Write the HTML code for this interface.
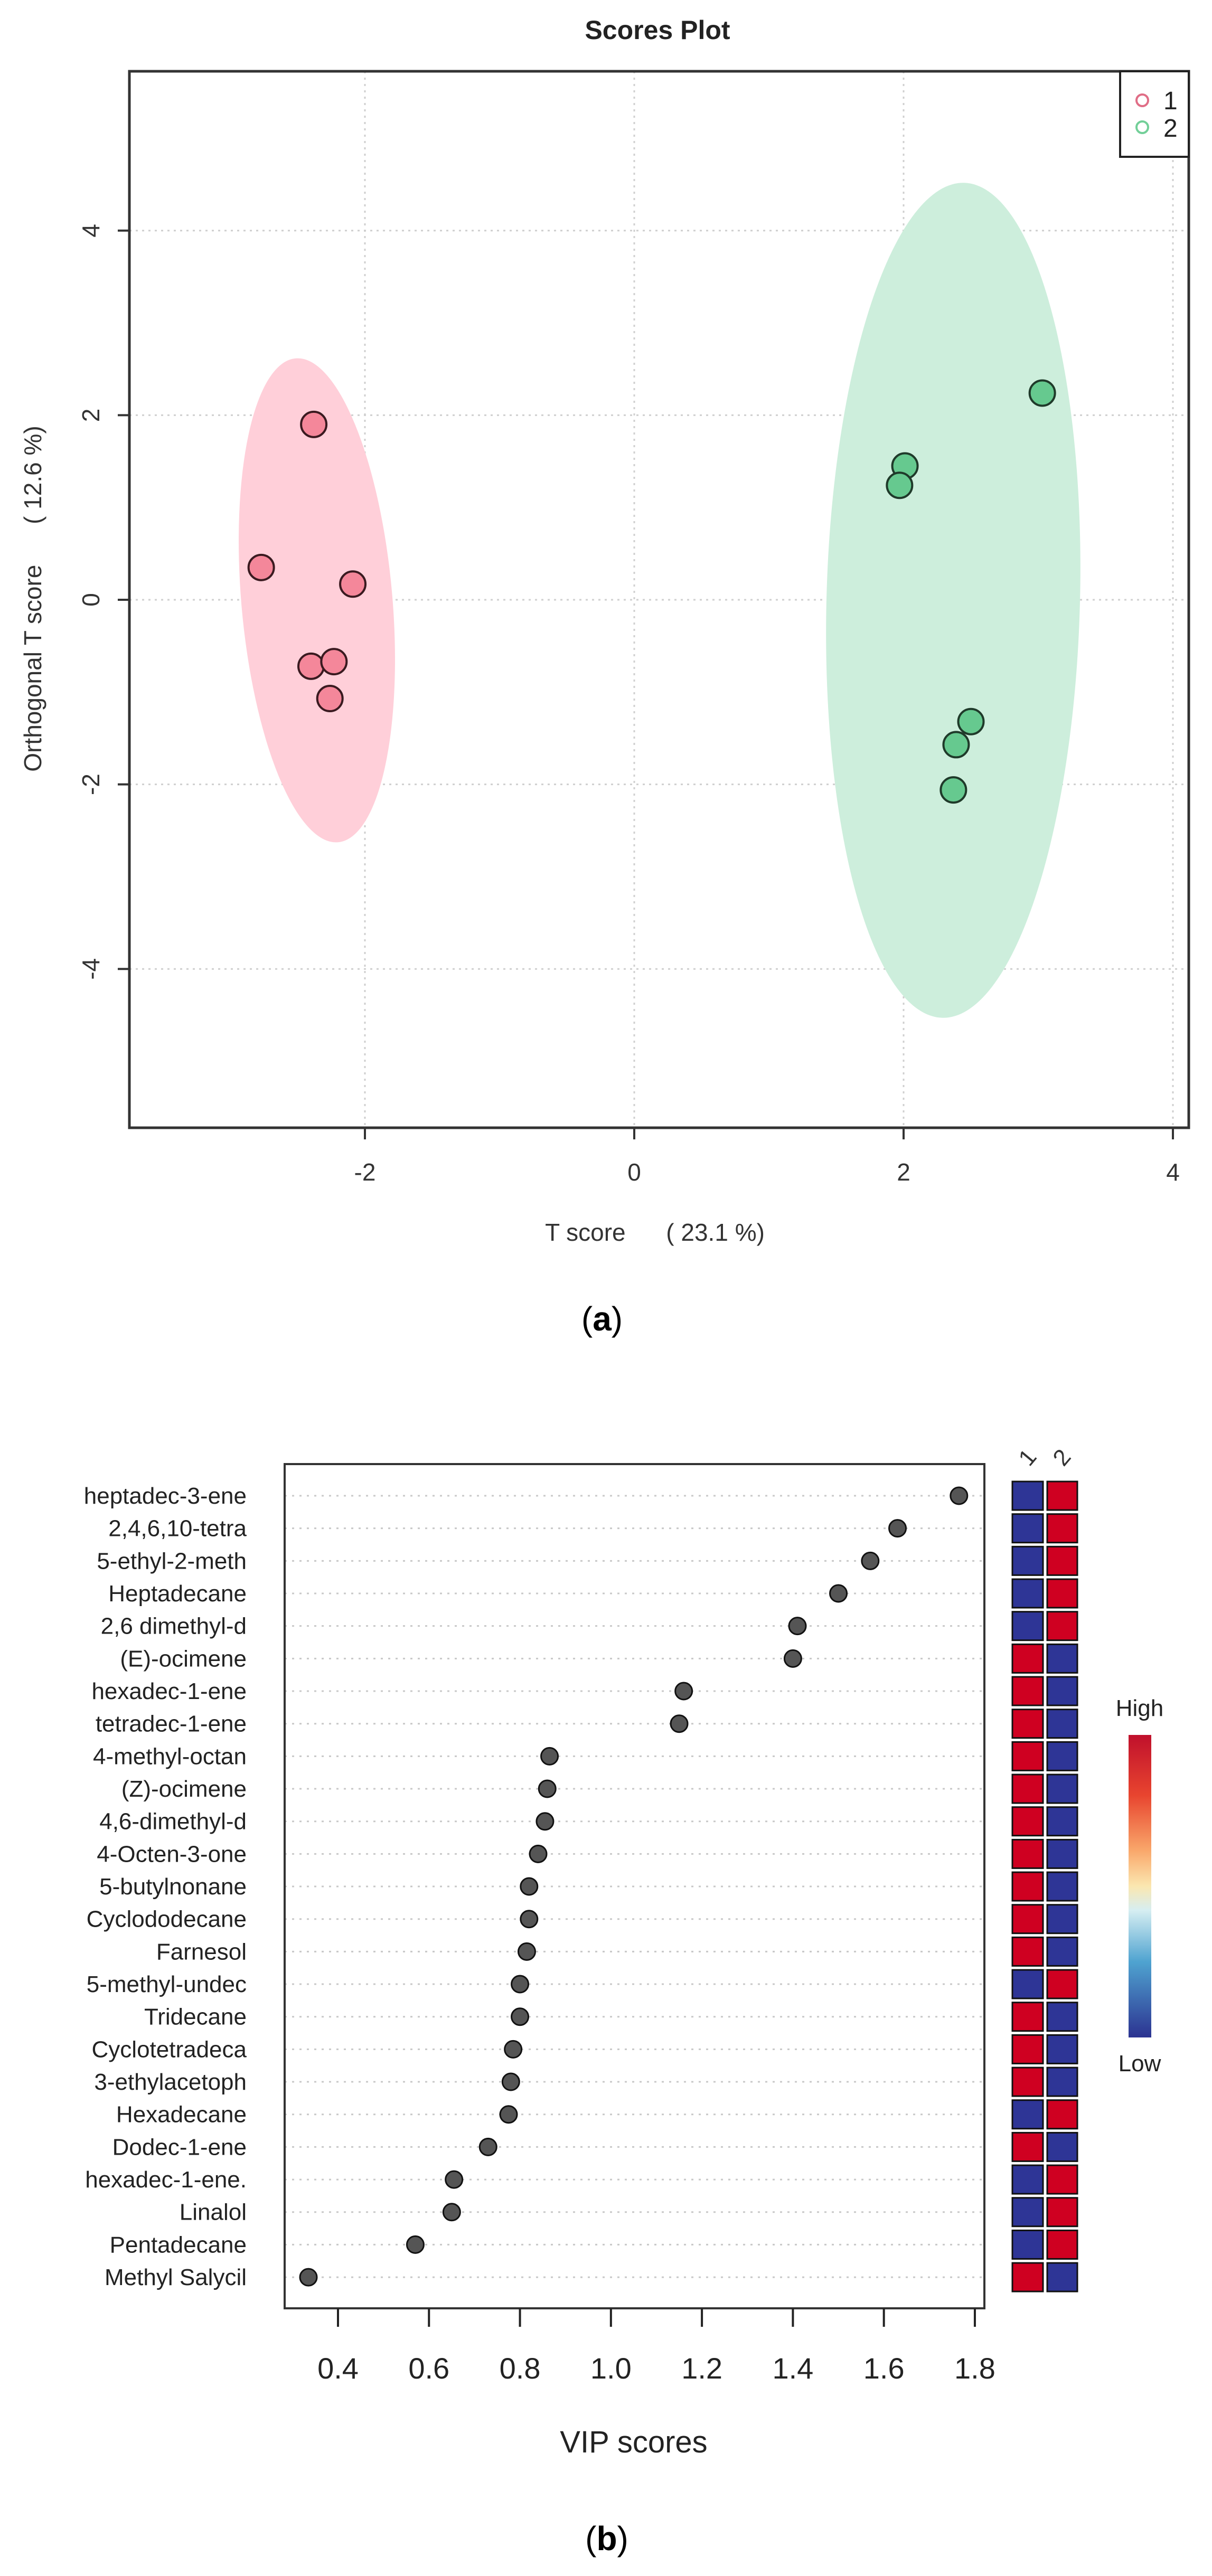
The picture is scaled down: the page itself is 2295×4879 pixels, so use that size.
<!DOCTYPE html>
<html><head><meta charset="utf-8"><style>
html,body{margin:0;padding:0;background:#fff}
svg{display:block}
text{font-family:"Liberation Sans",sans-serif;white-space:pre}
</style></head><body>
<svg id="root" width="2295" height="4879" xmlns="http://www.w3.org/2000/svg">
<rect width="2295" height="4879" fill="#fff"/>
<g id="top"></g>
<g id="bottom"></g>
<defs>
<linearGradient id="cb" x1="0" y1="0" x2="0" y2="1">
<stop offset="0" stop-color="#c0102c"/><stop offset="0.2" stop-color="#e8452f"/>
<stop offset="0.38" stop-color="#f9a66a"/><stop offset="0.5" stop-color="#fbe7b0"/>
<stop offset="0.58" stop-color="#d6eef2"/><stop offset="0.75" stop-color="#4fa3d0"/>
<stop offset="1" stop-color="#2c3391"/></linearGradient>
</defs>
</svg>
<script>
// ---------- Scores plot data ----------
const g1x=[-2.38,-2.77,-2.09,-2.40,-2.23,-2.26];
const g1y=[1.90,0.35,0.17,-0.72,-0.67,-1.07];
const g2x=[3.03,2.01,1.97,2.50,2.39,2.37];
const g2y=[2.24,1.45,1.24,-1.32,-1.57,-2.06];
const xTicks=[-2,0,2,4];
const yTicks=[-4,-2,0,2,4];
// ---------- VIP data ----------
const vipNames=["heptadec-3-ene","2,4,6,10-tetra","5-ethyl-2-meth","Heptadecane","2,6 dimethyl-d","(E)-ocimene","hexadec-1-ene","tetradec-1-ene","4-methyl-octan","(Z)-ocimene","4,6-dimethyl-d","4-Octen-3-one","5-butylnonane","Cyclododecane","Farnesol","5-methyl-undec","Tridecane","Cyclotetradeca","3-ethylacetoph","Hexadecane","Dodec-1-ene","hexadec-1-ene.","Linalol","Pentadecane","Methyl Salycil"];
const vipValues=[1.765,1.63,1.57,1.50,1.41,1.40,1.16,1.15,0.865,0.86,0.855,0.84,0.82,0.82,0.815,0.80,0.80,0.785,0.78,0.775,0.73,0.655,0.65,0.57,0.335];
const group1High=[0,0,0,0,0,1,1,1,1,1,1,1,1,1,1,0,1,1,1,0,1,0,0,0,1];
const vipTicks=["0.4","0.6","0.8","1.0","1.2","1.4","1.6","1.8"];

const NS="http://www.w3.org/2000/svg";
function mk(parent,tag,attrs,txt){const e=document.createElementNS(NS,tag);for(const k in attrs)e.setAttribute(k,attrs[k]);if(txt!==undefined)e.textContent=txt;parent.appendChild(e);return e;}

// ===== TOP =====
const T=document.getElementById('top');
const L=245,R=2251,TP=135,B=2136;
const sx=v=>1201+v*255;
const sy=v=>1136-v*174.8;
xTicks.forEach(t=>{const l=mk(T,'line',{x1:sx(t),x2:sx(t),y1:TP,y2:B,stroke:'#cfcfcf','stroke-width':3,'stroke-dasharray':'4 8'});

});
yTicks.forEach(t=>{const l=mk(T,'line',{x1:L,x2:R,y1:sy(t),y2:sy(t),stroke:'#cfcfcf','stroke-width':3,'stroke-dasharray':'4 8'});

});
let e1=mk(T,'ellipse',{cx:600,cy:1137,rx:143,ry:460,fill:'#ffcfd9',transform:'rotate(-5 600 1137)'});


let e2=mk(T,'ellipse',{cx:1805,cy:1137,rx:240,ry:791,fill:'#cdeedc',transform:'rotate(1.5 1805 1137)'});


g1x.forEach((x,i)=>{const c=mk(T,'circle',{cx:sx(x),cy:sy(g1y[i]),r:24,fill:'#f4879a',stroke:'#3a1a20','stroke-width':4});

});
g2x.forEach((x,i)=>{const c=mk(T,'circle',{cx:sx(x),cy:sy(g2y[i]),r:24,fill:'#66c98f',stroke:'#1f3a2a','stroke-width':4});

});
let fr=mk(T,'rect',{x:L,y:TP,width:R-L,height:B-TP,fill:'none',stroke:'#333','stroke-width':5});


xTicks.forEach(t=>{mk(T,'line',{x1:sx(t),x2:sx(t),y1:B,y2:B+22,stroke:'#333','stroke-width':4});
const tx=mk(T,'text',{x:sx(t),y:2236,'font-size':46,'text-anchor':'middle',fill:'#333'},t);

});
yTicks.forEach(t=>{mk(T,'line',{x1:L-22,x2:L,y1:sy(t),y2:sy(t),stroke:'#333','stroke-width':4});
const tx=mk(T,'text',{x:0,y:0,'font-size':46,'text-anchor':'middle',fill:'#333',transform:`translate(188 ${sy(t)}) rotate(-90)`},t);

});
let tt=mk(T,'text',{x:1245,y:74,'font-size':50,'font-weight':'bold','text-anchor':'middle',fill:'#222'},'Scores Plot');


let xl=mk(T,'text',{x:1240,y:2350,'font-size':46,'text-anchor':'middle',fill:'#333'},'T score      ( 23.1 %)');


let yl=mk(T,'text',{x:0,y:0,'font-size':46,'text-anchor':'middle',fill:'#333',transform:'translate(78 1134) rotate(-90)'},'Orthogonal T score      ( 12.6 %)');


let lg=mk(T,'g',{});


mk(lg,'rect',{x:2121,y:135,width:130,height:162,fill:'#fff',stroke:'#222','stroke-width':4});
mk(lg,'circle',{cx:2163,cy:190,r:11,fill:'none',stroke:'#e06d86','stroke-width':4});
mk(lg,'circle',{cx:2163,cy:241,r:11,fill:'none',stroke:'#72cf98','stroke-width':4});
mk(lg,'text',{x:2203,y:207,'font-size':48,fill:'#222'},'1');
mk(lg,'text',{x:2203,y:259,'font-size':48,fill:'#222'},'2');
let pa=mk(T,'text',{x:1140,y:2520,'font-size':64,'text-anchor':'middle',fill:'#000','font-family':'Liberation Serif'},'');


mk(pa,'tspan',{},'(');mk(pa,'tspan',{'font-weight':'bold'},'a');mk(pa,'tspan',{},')');

// ===== BOTTOM =====
const Bm=document.getElementById('bottom');
const BL=539,BR=1864,BT=2773,BB=4372;
const vx=v=>640+(v-0.4)*861.4;
const rowY=i=>2833+i*61.67;
vipNames.forEach((n,i)=>{
 mk(Bm,'line',{x1:BL,x2:BR,y1:rowY(i),y2:rowY(i),stroke:'#c8c8c8','stroke-width':3,'stroke-dasharray':'4 10'});
 const lb=mk(Bm,'text',{x:467,y:rowY(i)+15,'font-size':44,'text-anchor':'end',fill:'#222'},n);
 
 
 const d=mk(Bm,'circle',{cx:vx(vipValues[i]),cy:rowY(i),r:16,fill:'#555',stroke:'#111','stroke-width':3});
 
 
 const h1=group1High[i];
 const c1=mk(Bm,'rect',{x:1917,y:rowY(i)-27,width:58,height:54,fill:h1?'#cf0021':'#2e3596',stroke:'#111','stroke-width':3});
 
 
 const c2=mk(Bm,'rect',{x:1983,y:rowY(i)-27,width:57,height:54,fill:h1?'#2e3596':'#cf0021',stroke:'#111','stroke-width':3});
 
 
});
let bf=mk(Bm,'rect',{x:BL,y:BT,width:BR-BL,height:BB-BT,fill:'none',stroke:'#333','stroke-width':4});


vipTicks.forEach(t=>{const v=parseFloat(t);
 mk(Bm,'line',{x1:vx(v),x2:vx(v),y1:BB,y2:4407,stroke:'#222','stroke-width':4});
 const tx=mk(Bm,'text',{x:vx(v),y:4505,'font-size':56,'text-anchor':'middle',fill:'#222'},t);
 
 });
let vt=mk(Bm,'text',{x:1200,y:4645,'font-size':58,'text-anchor':'middle',fill:'#222'},'VIP scores');


[['1',1957],['2',2022]].forEach(([s,x])=>{const tx=mk(Bm,'text',{x:0,y:0,'font-size':44,'text-anchor':'middle',fill:'#333',transform:`translate(${x} 2770) rotate(-50)`},s);

});
let cbar=mk(Bm,'rect',{x:2137,y:3286,width:43,height:573,fill:'url(#cb)'});


let hi=mk(Bm,'text',{x:2158,y:3250,'font-size':44,'text-anchor':'middle',fill:'#222'},'High');


let lo=mk(Bm,'text',{x:2158,y:3923,'font-size':44,'text-anchor':'middle',fill:'#222'},'Low');


let pb=mk(Bm,'text',{x:1149,y:4830,'font-size':64,'text-anchor':'middle',fill:'#000','font-family':'Liberation Serif'},'');


mk(pb,'tspan',{},'(');mk(pb,'tspan',{'font-weight':'bold'},'b');mk(pb,'tspan',{},')');
</script>
</body></html>
